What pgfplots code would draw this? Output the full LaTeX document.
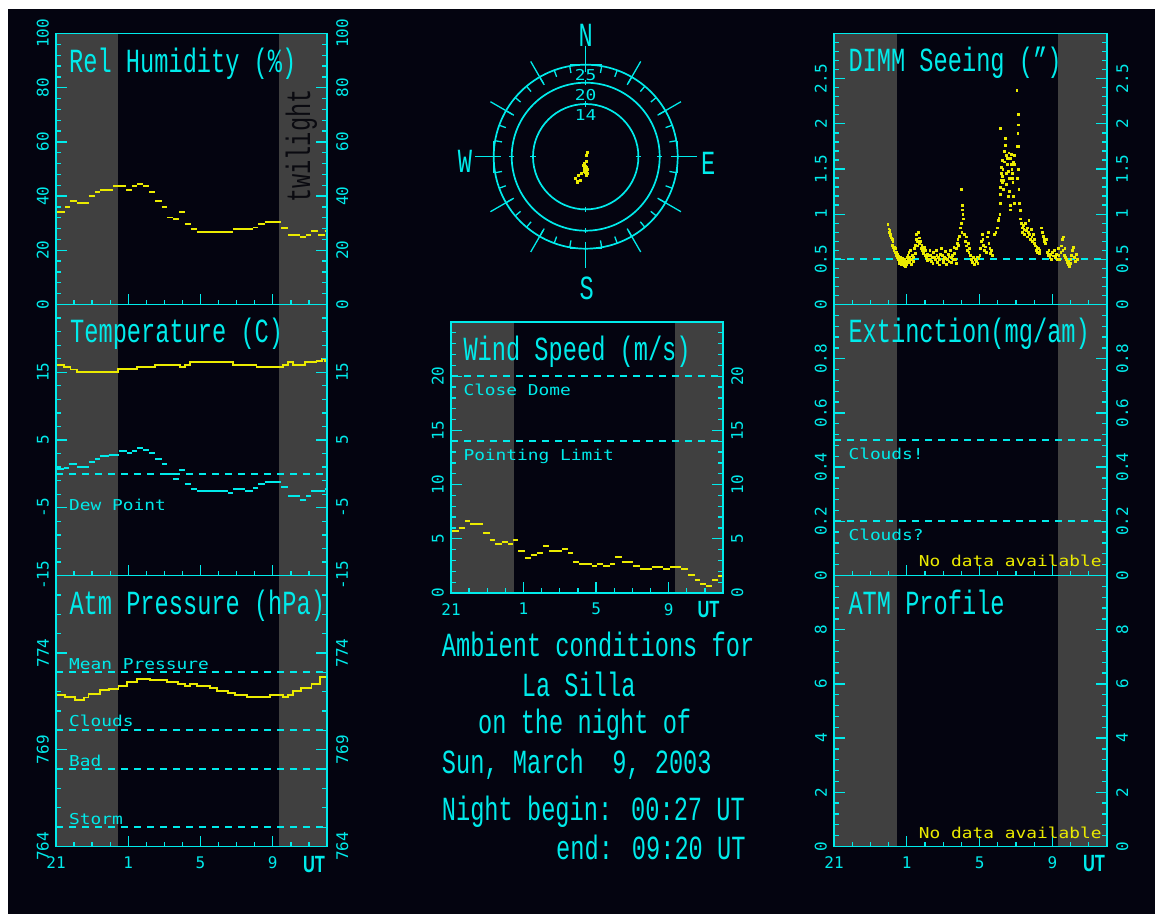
\documentclass[border=0pt]{standalone}
\usepackage{pgfplots}
\pgfplotsset{compat=1.18}
\usepackage{fontspec}
\newfontfamily\titf[FakeStretch=0.7]{Liberation Mono}
\newfontfamily\labf[FakeStretch=1.19]{DejaVu Sans Mono}
\newfontfamily\tickf{DejaVu Sans Mono}
\newfontfamily\utf[FakeStretch=0.7]{Liberation Sans}
\definecolor{cy}{RGB}{0,235,235}
\definecolor{ye}{RGB}{235,235,0}
\definecolor{gr}{RGB}{64,64,64}
\definecolor{bg}{RGB}{4,4,16}
\definecolor{tw}{RGB}{10,10,16}
\newcommand\TF{\titf\fontsize{33.8bp}{38bp}\selectfont}
\newcommand\LF{\labf\fontsize{15bp}{18bp}\selectfont}
\newcommand\KF{\tickf\fontsize{16bp}{19bp}\selectfont}
\newcommand\UF{\utf\bfseries\fontsize{23.5bp}{26bp}\selectfont}
\pgfplotsset{
 panel/.style={scale only axis, height=271bp, xmin=-3, xmax=12, axis on top,
   axis line style={cy, line width=1.6bp},
   tick style={cy, line width=1.3bp},
   tick align=inside, major tick length=11bp, minor tick length=5bp,
   xtick={-3,1,5,9}, minor xtick={-2,-1,0,2,3,4,6,7,8,10,11},
   xtick pos=left, ytick pos=both,
   xticklabels={,,,},
   yticklabel style={rotate=90, anchor=south, inner sep=0pt, font=\KF, text=cy},
   yticklabel shift=7bp,
   xticklabel style={anchor=north, inner sep=0pt, font=\KF, text=cy},
   xticklabel shift=10bp,
 },
 rlab/.style={scale only axis, height=271bp, xmin=-3, xmax=12,
   axis line style={draw=none}, tick style={draw=none}, xtick=\empty,
   yticklabel pos=right,
   yticklabel style={rotate=90, anchor=north, inner sep=0pt, font=\KF, text=cy},
   yticklabel shift=9bp},
 band/.style={fill=gr, draw=none},
 dl/.style={draw=cy, line width=2bp, dash pattern=on 7bp off 6bp},
 yl/.style={draw=ye, line width=1.9bp},
}
\newcommand\bands[2]{%
 \addplot[band] coordinates {(-3,#1) (0.45,#1) (0.45,#2) (-3,#2)} -- cycle;
 \addplot[band] coordinates {(9.33,#1) (12,#1) (12,#2) (9.33,#2)} -- cycle;}
\newcommand\hl[1]{\addplot[dl] coordinates {(-3,#1) (12,#1)};}
\tikzset{lab/.style={anchor=base west, inner sep=0pt, text=cy, font=\LF},
         tit/.style={anchor=base west, inner sep=0pt, text=cy, font=\TF}}
\begin{document}
\begin{tikzpicture}
\fill[white] (0,0) rectangle (1155bp,-914bp);
\fill[bg] (8bp,-9bp) rectangle (1155bp,-914bp);

% ---------- Rel Humidity
\begin{axis}[panel, width=271bp, at={(56bp,-33.5bp)}, anchor=north west,
  ymin=0, ymax=100, ytick={0,20,40,60,80,100}, yticklabels={0,20,40,60,80,100}, minor y tick num=4]
\bands{0}{100}
\addplot[yl, jump mark left] coordinates {(-3,34.2) (-2.48,36) (-2.21,38.1) (-1.84,37.5) (-1.2,40.1) (-0.83,41.4) (-0.55,42.1) (0.18,43.6) (0.88,42.2) (1.2,43.7) (1.47,44.3) (1.84,43.7) (2.17,41.5) (2.48,38.1) (2.85,36) (3.17,32.1) (3.5,31.4) (3.83,34.2) (4.14,29.6) (4.45,27.7) (4.79,26.9) (6.81,27.7) (7.91,28.4) (8.19,29.6) (8.56,30.4) (9.48,28.3) (9.85,25.6) (10.49,24.9) (10.86,25.7) (11.14,27) (11.5,25.6) (11.87,27) (12,27)};
\end{axis}
\begin{axis}[rlab, width=271bp, at={(56bp,-33.5bp)}, anchor=north west,
  ymin=0, ymax=100, ytick={0,20,40,60,80,100}, yticklabels={0,20,40,60,80,100}]
\end{axis}

% ---------- Temperature
\begin{axis}[panel, width=271bp, at={(56bp,-304.5bp)}, anchor=north west,
  ymin=-15, ymax=25, ytick={-15,-5,5,15}, yticklabels={-15,-5,5,15}, minor ytick={-13,-11,...,23}]
\bands{-15}{25}
\hl{0}
\addplot[yl, const plot] coordinates {(-3,16.1) (-2.57,15.8) (-2.2,15.4) (-1.84,15.1) (0.45,15.5) (1.47,15.8) (2.48,16.1) (3.86,15.8) (4.14,16.1) (4.42,16.45) (6.81,16.1) (8.1,15.8) (9.57,16.1) (9.85,16.45) (10.13,16.1) (10.77,16.45) (11.42,16.7) (11.7,17.0) (11.87,16.6) (12,16.6)};
\addplot[draw=cy, line width=1.9bp, jump mark left] coordinates {(-3,0.72) (-2.58,0.87) (-2.3,1.5) (-1.84,0.97) (-1.2,1.7) (-0.83,2.2) (-0.55,2.6) (-0.09,2.84) (0.46,3.33) (0.92,3.08) (1.2,3.33) (1.47,3.87) (1.84,3.57) (2.17,3.03) (2.48,2.2) (2.85,1.46) (3.17,0.04) (3.5,-0.7) (3.83,0.63) (4.14,-1.49) (4.45,-2.2) (4.79,-2.5) (6.53,-2.8) (6.81,-2.2) (7.45,-2.5) (7.91,-2.06) (8.19,-1.49) (8.56,-1.14) (9.48,-1.98) (9.85,-3.3) (10.49,-3.85) (10.86,-3.3) (11.14,-2.5) (11.87,-2.2) (12,-2.2)};
\end{axis}
\begin{axis}[rlab, width=271bp, at={(56bp,-304.5bp)}, anchor=north west,
  ymin=-15, ymax=25, ytick={-15,-5,5,15}, yticklabels={-15,-5,5,15}]
\end{axis}

% ---------- Atm Pressure
\begin{axis}[panel, width=271bp, at={(56bp,-575.5bp)}, anchor=north west,
  ymin=764, ymax=778, ytick={764,769,774}, yticklabels={764,769,774}, minor ytick={765,...,777},
  xticklabels={21,1,5,9}]
\bands{764}{778}
\hl{773}\hl{770}\hl{768}\hl{765}
\addplot[yl, const plot] coordinates {(-3,771.83) (-2.48,771.74) (-1.93,771.55) (-1.47,771.7) (-1.2,771.9) (-0.55,772.07) (-0.09,772.16) (0.46,772.28) (0.92,772.52) (1.47,772.66) (2.21,772.59) (3.13,772.48) (3.77,772.4) (4.14,772.3) (4.42,772.4) (4.79,772.3) (5.52,772.17) (5.89,772.02) (6.53,771.93) (6.9,771.83) (7.55,771.72) (8.83,771.83) (9.57,771.72) (9.85,771.83) (10.12,772.02) (10.58,772.17) (11.14,772.4) (11.6,772.74) (12,772.74)};
\end{axis}
\begin{axis}[rlab, width=271bp, at={(56bp,-575.5bp)}, anchor=north west,
  ymin=764, ymax=778, ytick={764,769,774}, yticklabels={764,769,774}]
\end{axis}

% ---------- Wind Speed
\begin{axis}[panel, width=272bp, at={(451bp,-322bp)}, anchor=north west,
  ymin=0, ymax=25, ytick={0,5,10,15,20}, yticklabels={0,5,10,15,20}, minor ytick={1,...,24},
  xticklabels={21,1,5,9}]
\bands{0}{25}
\hl{20}\hl{14}
\addplot[yl, jump mark left] coordinates {(-3,5.69) (-2.58,6.03) (-2.21,6.68) (-1.94,6.34) (-1.24,5.54) (-0.87,4.86) (-0.56,4.49) (-0.19,4.68) (0.12,4.49) (0.41,4.86) (0.72,3.88) (1.09,3.2) (1.4,3.48) (1.73,3.69) (2.1,4.34) (2.41,3.88) (3.11,4.06) (3.44,3.69) (3.75,2.86) (4.08,2.65) (4.76,2.49) (5.03,2.65) (5.4,2.49) (5.77,2.71) (6.04,3.32) (6.41,2.86) (7.05,2.52) (7.42,2.22) (8.06,2.37) (8.7,2.22) (9.07,2.37) (9.71,2.22) (10.08,1.69) (10.44,1.2) (10.75,0.86) (11.08,0.68) (11.41,1.2) (11.73,1.54) (12,1.54)};
\end{axis}
\begin{axis}[rlab, width=272bp, at={(451bp,-322bp)}, anchor=north west,
  ymin=0, ymax=25, ytick={0,5,10,15,20}, yticklabels={0,5,10,15,20}, yticklabel shift=8bp]
\end{axis}

% ---------- DIMM Seeing
\begin{axis}[panel, width=273bp, at={(834bp,-33.5bp)}, anchor=north west,
  ymin=0, ymax=3, ytick={0,0.5,1,1.5,2,2.5}, yticklabels={0,0.5,1,1.5,2,2.5}, minor ytick={0.1,0.2,...,2.95}]
\bands{0}{3}
\hl{0.5}
\addplot[only marks, mark=square*, mark size=0.9bp, mark options={draw=ye, fill=ye}] coordinates {
(-0.05,0.89) (0.0,0.84) (0.03,0.8) (0.06,0.82) (0.09,0.77) (0.12,0.78) (0.15,0.74) (0.18,0.72) (0.2,0.66) (0.23,0.7) (0.26,0.63) (0.28,0.6) (0.31,0.64) (0.34,0.58)
(0.37,0.62) (0.4,0.55) (0.42,0.58) (0.45,0.52) (0.48,0.56) (0.5,0.5) (0.53,0.54) (0.55,0.48) (0.58,0.5) (0.6,0.46) (0.63,0.52) (0.66,0.49) (0.68,0.44) (0.71,0.47) (0.74,0.51) (0.77,0.45) (0.8,0.48) (0.83,0.43) (0.86,0.5) (0.89,0.46) (0.92,0.42) (0.95,0.45) (0.98,0.48)
(1.02,0.52) (1.05,0.55) (1.08,0.5) (1.1,0.58) (1.13,0.47) (1.16,0.53) (1.2,0.6) (1.23,0.5) (1.26,0.45) (1.3,0.55) (1.33,0.48) (1.37,0.52) (1.4,0.62) (1.44,0.57) (1.48,0.66) (1.5,0.72) (1.53,0.78) (1.55,0.7) (1.58,0.65)
(1.62,0.8) (1.66,0.74) (1.7,0.68) (1.74,0.7) (1.78,0.62) (1.82,0.66) (1.86,0.6) (1.9,0.57) (1.94,0.63) (1.98,0.55) (2.02,0.6)
(2.06,0.52) (2.1,0.56) (2.14,0.49) (2.18,0.54) (2.22,0.5) (2.26,0.6) (2.3,0.55) (2.34,0.48) (2.38,0.52) (2.42,0.46) (2.46,0.58) (2.5,0.53) (2.55,0.5) (2.6,0.6) (2.64,0.55) (2.68,0.47) (2.72,0.52) (2.76,0.44) (2.8,0.5) (2.85,0.56) (2.9,0.62) (2.94,0.55) (2.98,0.5) (3.02,0.47) (3.06,0.53) (3.1,0.59) (3.14,0.51) (3.18,0.45) (3.22,0.5) (3.26,0.56) (3.3,0.48) (3.34,0.53) (3.38,0.6) (3.42,0.52) (3.46,0.47) (3.5,0.55) (3.54,0.5) (3.58,0.63) (3.62,0.57) (3.66,0.5) (3.7,0.46)
(3.72,0.62) (3.76,0.68) (3.8,0.72) (3.84,0.66) (3.88,0.76)
(4.0,1.28) (4.03,1.1) (4.05,1.05) (4.07,1.0) (4.1,0.95) (4.0,0.9) (4.02,0.8) (3.95,0.85)
(4.15,0.78) (4.2,0.7) (4.25,0.75) (4.28,0.65) (4.32,0.6) (4.36,0.68) (4.4,0.58) (4.44,0.62)
(4.5,0.55) (4.55,0.5) (4.6,0.47) (4.65,0.52) (4.7,0.45) (4.75,0.5) (4.8,0.48) (4.85,0.53) (4.9,0.46) (4.95,0.51) (5.0,0.55)
(5.05,0.62) (5.1,0.7) (5.13,0.78) (5.17,0.72) (5.2,0.66) (5.25,0.6) (5.3,0.64) (5.35,0.58) (5.4,0.75) (5.45,0.8) (5.5,0.68) (5.55,0.62) (5.6,0.57) (5.65,0.6) (5.7,0.55)
(5.8,0.78) (5.88,0.8) (5.95,0.85) (6.0,0.93) (6.05,0.96)
(6.1,1.0) (6.12,1.12) (6.14,1.22) (6.15,1.3) (6.17,1.45) (6.18,1.38) (6.2,1.52) (6.22,1.42) (6.24,1.35) (6.25,1.6) (6.27,1.5) (6.12,1.95)
(6.3,1.28) (6.32,1.38) (6.35,1.7) (6.37,1.58) (6.4,1.84) (6.42,1.76) (6.44,1.65) (6.46,1.45) (6.48,1.33) (6.5,1.55) (6.52,1.62) (6.55,1.48) (6.57,1.2) (6.6,1.68) (6.62,1.4) (6.64,1.25) (6.66,1.1) (6.68,1.05)
(6.7,1.62) (6.72,1.55) (6.74,1.66) (6.76,1.5) (6.78,1.4) (6.8,1.45) (6.82,1.35) (6.84,1.58) (6.86,1.2) (6.88,1.12) (6.9,1.65) (6.92,1.55)
(7.04,2.37) (7.13,2.11) (7.11,1.99) (7.09,1.9) (7.12,1.75) (7.08,1.4) (7.15,1.28) (7.18,1.12) (7.1,1.5) (7.05,1.75)
(7.22,1.04) (7.25,0.95) (7.28,0.9) (7.32,0.85) (7.35,0.8) (7.38,0.88) (7.42,0.83) (7.45,0.78) (7.5,0.9) (7.55,0.82) (7.6,0.85) (7.63,0.75) (7.67,0.8) (7.7,0.93) (7.74,0.78) (7.78,0.72) (7.82,0.83) (7.86,0.75) (7.9,0.7) (7.94,0.78)
(7.98,0.72) (8.02,0.68) (8.06,0.65) (8.1,0.6) (8.14,0.63) (8.18,0.58) (8.22,0.62) (8.26,0.57) (8.3,0.6) (8.4,0.85) (8.44,0.8) (8.48,0.76) (8.52,0.72) (8.56,0.7) (8.6,0.68) (8.64,0.72)
(8.7,0.58) (8.75,0.55) (8.8,0.6) (8.85,0.52) (8.9,0.56) (8.95,0.5) (9.0,0.58) (9.05,0.54) (9.1,0.6) (9.15,0.52) (9.2,0.56) (9.25,0.5) (9.3,0.62) (9.35,0.55) (9.4,0.5) (9.45,0.58) (9.48,0.65) (9.52,0.72) (9.56,0.6) (9.6,0.75) (9.64,0.55) (9.68,0.62) (9.72,0.52)
(9.76,0.5) (9.8,0.47) (9.84,0.44) (9.88,0.48) (9.92,0.42) (9.96,0.46) (10.0,0.5) (10.05,0.55) (10.1,0.6) (10.15,0.63) (10.2,0.52) (10.25,0.48) (10.3,0.56) (10.35,0.5)};
\end{axis}
\begin{axis}[rlab, width=273bp, at={(834bp,-33.5bp)}, anchor=north west,
  ymin=0, ymax=3, ytick={0,0.5,1,1.5,2,2.5}, yticklabels={0,0.5,1,1.5,2,2.5}]
\end{axis}

% ---------- Extinction
\begin{axis}[panel, width=273bp, at={(834bp,-304.5bp)}, anchor=north west,
  ymin=0, ymax=1, ytick={0,0.2,0.4,0.6,0.8}, yticklabels={0,0.2,0.4,0.6,0.8}, minor ytick={0.04,0.08,...,0.97}]
\bands{0}{1}
\hl{0.5}\hl{0.2}
\end{axis}
\begin{axis}[rlab, width=273bp, at={(834bp,-304.5bp)}, anchor=north west,
  ymin=0, ymax=1, ytick={0,0.2,0.4,0.6,0.8}, yticklabels={0,0.2,0.4,0.6,0.8}]
\end{axis}

% ---------- ATM Profile
\begin{axis}[panel, width=273bp, at={(834bp,-575.5bp)}, anchor=north west,
  ymin=0, ymax=10, ytick={0,2,4,6,8}, yticklabels={0,2,4,6,8}, minor ytick={0.4,0.8,...,9.7},
  xticklabels={21,1,5,9}]
\bands{0}{10}
\end{axis}
\begin{axis}[rlab, width=273bp, at={(834bp,-575.5bp)}, anchor=north west,
  ymin=0, ymax=10, ytick={0,2,4,6,8}, yticklabels={0,2,4,6,8}]
\end{axis}

% ---------- Compass (wind direction)
\begin{scope}[shift={(585.7bp,-156.7bp)}, draw=cy, line width=1.7bp]
\draw (0,0) circle[radius=52.7bp];
\draw (0,0) circle[radius=74bp];
\draw (0,0) circle[radius=92bp];
\foreach \a in {0,10,...,350} \draw[line width=1.3bp] (\a:85bp) -- (\a:92bp);
\foreach \a in {30,60,120,150,210,240,300,330} \draw[line width=1.3bp] (\a:83bp) -- (\a:110bp);
\foreach \a in {0,90,180,270} {
  \begin{scope}[rotate=\a]
   \draw[line width=1.3bp] (86bp,0) -- (111bp,0);
   \draw[line width=1.3bp] (92bp,-16bp) -- (92bp,16bp);
   \draw[line width=1.3bp] (50bp,0) -- (55.5bp,0);
   \draw[line width=1.3bp] (71.5bp,0) -- (76.5bp,0);
  \end{scope}}
\end{scope}
\begin{axis}[scale only axis, width=225bp, height=225bp, xmin=-30, xmax=30, ymin=-30, ymax=30,
  hide axis, at={(473.2bp,-269.2bp)}, anchor=south west]
\addplot[only marks, mark=square*, mark size=1bp, mark options={draw=ye, fill=ye}] coordinates {
(0.27,1.07) (0.1,0.5) (0,-1.16) (-0.36,-1.78) (-0.62,-2.22) (-0.2,-2.5) (0.05,-2.9) (-0.36,-3.1) (0.09,-3.56) (0.3,-3.3) (-0.18,-4.0) (0.27,-4.44) (0.1,-4.8) (-0.5,-3.8) (-1.07,-4.44) (-1.96,-4.89) (-2.84,-5.78) (-2.22,-6.49) (-1.51,-6.22) (-2.4,-6.93)};
\end{axis}
\node[text=cy, font=\TF, inner sep=0pt] at (585.7bp,-35bp) {N};
\node[text=cy, font=\TF, inner sep=0pt] at (586.7bp,-288.3bp) {S};
\node[text=cy, font=\TF, inner sep=0pt] at (708.3bp,-163.3bp) {E};
\node[text=cy, font=\TF, inner sep=0pt] at (465bp,-161.7bp) {W};
\node[text=cy, font=\LF, inner sep=0pt] at (585.7bp,-115bp) {14};
\node[text=cy, font=\LF, inner sep=0pt] at (585.7bp,-95bp) {20};
\node[text=cy, font=\LF, inner sep=0pt] at (585.7bp,-75bp) {25};

% ---------- titles
\node[tit] at (69bp,-72bp) {Rel Humidity (\%)};
\node[tit] at (70bp,-342.7bp) {Temperature (C)};
\node[tit] at (69.3bp,-614bp) {Atm Pressure (hPa)};
\node[tit] at (463.3bp,-360.7bp) {Wind Speed (m/s)};
\node[tit] at (848.3bp,-71.7bp) {DIMM Seeing (”)};
\node[tit] at (848.3bp,-342.7bp) {Extinction(mg/am)};
\node[tit] at (848.3bp,-614.3bp) {ATM Profile};
\node[rotate=90, anchor=base west, inner sep=0pt, text=tw, font=\TF] at (310bp,-203bp) {twilight};

% ---------- small labels
\node[lab] at (69bp,-510bp) {Dew Point};
\node[lab] at (69bp,-669.3bp) {Mean Pressure};
\node[lab] at (69bp,-726.7bp) {Clouds};
\node[lab] at (69bp,-766bp) {Bad};
\node[lab] at (69bp,-824.3bp) {Storm};
\node[lab] at (463.3bp,-395bp) {Close Dome};
\node[lab] at (463.3bp,-460.7bp) {Pointing Limit};
\node[lab] at (848.3bp,-459.3bp) {Clouds!};
\node[lab] at (848.3bp,-540.7bp) {Clouds?};
\node[lab, anchor=base east, text=ye] at (1101.7bp,-566bp) {No data available};
\node[lab, anchor=base east, text=ye] at (1101.7bp,-838.3bp) {No data available};

% ---------- UT
\node[text=cy, font=\UF, inner sep=0pt] at (314bp,-865bp) {UT};
\node[text=cy, font=\UF, inner sep=0pt] at (708.5bp,-610bp) {UT};
\node[text=cy, font=\UF, inner sep=0pt] at (1094bp,-864bp) {UT};

% ---------- centre text
\node[tit] at (441.7bp,-656.7bp) {Ambient conditions for};
\node[tit] at (521.7bp,-696bp) {La Silla};
\node[tit] at (478bp,-733bp) {on the night of};
\node[tit] at (441.7bp,-773bp) {Sun, March\ \ 9, 2003};
\node[tit] at (441.7bp,-820bp) {Night begin: 00:27 UT};
\node[tit] at (556bp,-859bp) {end: 09:20 UT};

\pgfresetboundingbox
\useasboundingbox (0,0) rectangle (1155bp,-914bp);
\end{tikzpicture}
\end{document}
